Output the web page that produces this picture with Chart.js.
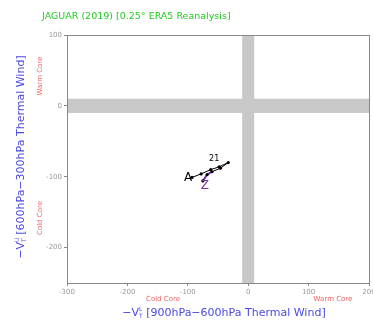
<!DOCTYPE html>
<html><head><meta charset="utf-8">
<script src="https://cdn.jsdelivr.net/npm/chart.js@4/dist/chart.umd.min.js"></script>
<style>html,body{margin:0;padding:0;background:#fff}#wrap{width:373px;height:321px}</style>
</head><body><div id="wrap"><canvas id="c" width="373" height="321"></canvas></div>
<script>
const titleText = "JAGUAR (2019) [0.25\u00B0 ERA5 Reanalysis]";
const trackX = [-93, -78, -62, -48, -33, -46, -60, -68, -75];
const trackY = [-101, -96, -90, -86, -80, -88, -93, -97, -106];
const xTicks = [-300, -200, -100, 0, 100, 200];
const yTicks = [-200, -100, 0, 100];
const startLabel = "A", endLabel = "Z", turnLabel = "21";

const pts = trackX.map((x, i) => ({x, y: trackY[i]}));

const overlay = {
  id: 'overlay',
  beforeDatasetsDraw(chart) {
    const {ctx, chartArea: a, scales: {x, y}} = chart;
    ctx.save();
    ctx.fillStyle = '#c8c8c8';
    const x0 = x.getPixelForValue(-10), x1 = x.getPixelForValue(10);
    ctx.fillRect(x0, a.top, x1 - x0, a.bottom - a.top);
    const y0 = y.getPixelForValue(10), y1 = y.getPixelForValue(-10);
    ctx.fillRect(a.left, y0, a.right - a.left, y1 - y0);
    ctx.strokeStyle = '#888';
    ctx.lineWidth = 1;
    ctx.strokeRect(Math.round(a.left) + 0.5, Math.round(a.top) + 0.5, Math.round(a.right - a.left), Math.round(a.bottom - a.top));
    ctx.restore();
  },
  afterDraw(chart) {
    const {ctx, scales: {x, y}} = chart;
    ctx.save();
    ctx.fillStyle = '#22cc22';
    ctx.font = '9.5px "DejaVu Sans"';
    ctx.textBaseline = 'middle';
    ctx.textAlign = 'left';
    ctx.fillText(titleText, 42, 17);
    ctx.fillStyle = '#ee6666';
    ctx.font = '7px "DejaVu Sans"';
    ctx.textAlign = 'center';
    ctx.fillText('Cold Core', 163, 299);
    ctx.fillText('Warm Core', 333, 299);
    ctx.save(); ctx.translate(40, 76); ctx.rotate(-Math.PI/2); ctx.fillText('Warm Core', 0, 0); ctx.restore();
    ctx.save(); ctx.translate(40, 218); ctx.rotate(-Math.PI/2); ctx.fillText('Cold Core', 0, 0); ctx.restore();
    function axisTitle(sup, rest) {
      ctx.fillStyle = '#4a4ae0';
      ctx.font = '11px "DejaVu Sans"';
      ctx.textAlign = 'left';
      const w1 = ctx.measureText('\u2212V').width;
      ctx.font = '6px "DejaVu Sans"';
      const w2 = ctx.measureText('T').width;
      ctx.font = '11px "DejaVu Sans"';
      const w3 = ctx.measureText(' ' + rest).width;
      const total = w1 + w2 + w3;
      let cx = -total / 2;
      ctx.fillText('\u2212V', cx, 0); cx += w1;
      ctx.font = '6px "DejaVu Sans"';
      ctx.fillText('T', cx, 3);
      ctx.fillText(sup, cx, -4);
      cx += w2;
      ctx.font = '11px "DejaVu Sans"';
      ctx.fillText(' ' + rest, cx, 0);
    }
    ctx.save(); ctx.translate(224, 313); axisTitle('L', '[900hPa\u2212600hPa Thermal Wind]'); ctx.restore();
    ctx.save(); ctx.translate(21, 157); ctx.rotate(-Math.PI/2); axisTitle('U', '[600hPa\u2212300hPa Thermal Wind]'); ctx.restore();
    ctx.textAlign = 'center';
    ctx.font = '12px "DejaVu Sans"';
    ctx.fillStyle = '#000';
    ctx.fillText(startLabel, x.getPixelForValue(trackX[0]) - 4, y.getPixelForValue(trackY[0]));
    ctx.fillStyle = '#7733aa';
    ctx.fillText(endLabel, x.getPixelForValue(trackX[trackX.length-1]) + 2, y.getPixelForValue(trackY[trackY.length-1]) + 5);
    ctx.fillStyle = '#000';
    ctx.font = '8px "DejaVu Sans"';
    ctx.fillText(turnLabel, x.getPixelForValue(trackX[3]) - 5, y.getPixelForValue(trackY[3]) - 8);
    ctx.restore();
  }
};

new Chart(document.getElementById('c'), {
  type: 'scatter',
  data: {datasets: [{
    data: pts,
    showLine: true,
    borderColor: '#000',
    borderWidth: 1,
    pointRadius: 1.6,
    pointBackgroundColor: '#000',
    pointBorderWidth: 0,
    segment: {borderColor: c => c.p1DataIndex >= trackX.length - 2 ? '#7733aa' : '#000', borderWidth: c => c.p1DataIndex >= trackX.length - 2 ? 2 : 1}
  }]},
  options: {
    responsive: false, animation: false, devicePixelRatio: 1,
    layout: {padding: {left: 0, top: 35, right: 2, bottom: 0}},
    plugins: {legend: {display: false}, tooltip: {enabled: false}},
    scales: {
      x: {
        min: -300, max: 200,
        afterFit: s => { s.height = 38; s.paddingLeft = 0; s.paddingRight = 0; },
        afterBuildTicks: s => { s.ticks = xTicks.map(v => ({value: v})); },
        ticks: {color: '#999', font: {size: 7, family: 'DejaVu Sans'}, padding: 2, maxRotation: 0, callback: v => String(v)},
        grid: {drawOnChartArea: false, color: '#888', tickLength: 3},
        border: {color: '#888', width: 1}
      },
      y: {
        min: -250, max: 100,
        afterFit: s => { s.width = 67; s.paddingTop = 0; s.paddingBottom = 0; },
        afterBuildTicks: s => { s.ticks = yTicks.map(v => ({value: v})); },
        ticks: {color: '#999', font: {size: 7, family: 'DejaVu Sans'}, padding: 2, callback: v => String(v)},
        grid: {drawOnChartArea: false, color: '#888', tickLength: 3},
        border: {color: '#888', width: 1}
      }
    }
  },
  plugins: [overlay]
});
</script></body></html>
